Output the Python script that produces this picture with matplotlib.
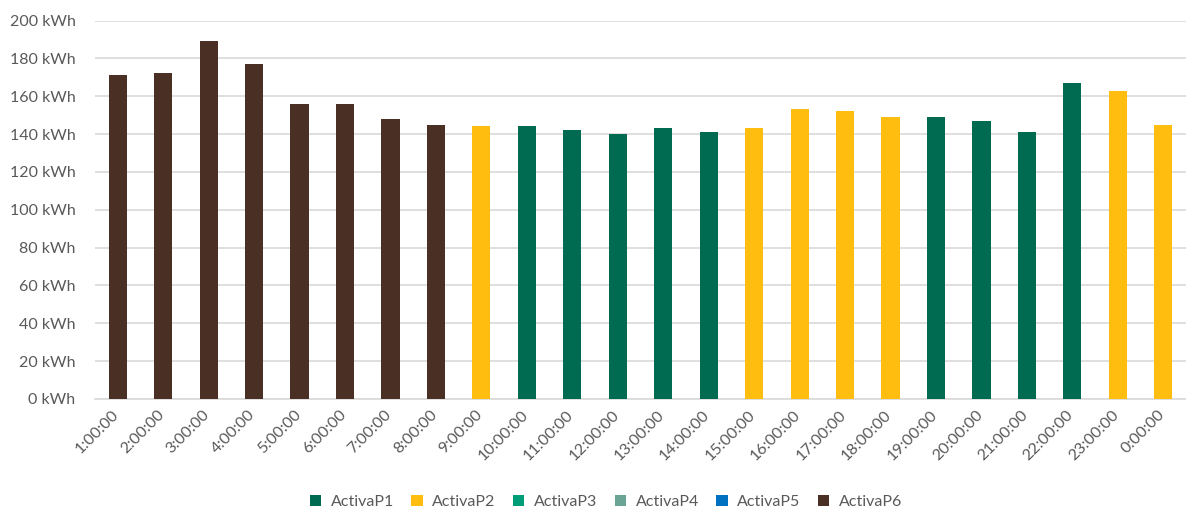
import matplotlib
matplotlib.use('Agg')
import matplotlib.pyplot as plt
from matplotlib.patches import Patch
from matplotlib.ticker import FuncFormatter
import matplotlib.transforms as mtransforms

plt.rcParams['font.family'] = ['Lato', 'DejaVu Sans']

# consumo horario por periodo tarifario
HOURS = ['1:00:00', '2:00:00', '3:00:00', '4:00:00', '5:00:00', '6:00:00',
         '7:00:00', '8:00:00', '9:00:00', '10:00:00', '11:00:00', '12:00:00',
         '13:00:00', '14:00:00', '15:00:00', '16:00:00', '17:00:00', '18:00:00',
         '19:00:00', '20:00:00', '21:00:00', '22:00:00', '23:00:00', '0:00:00']
KWH = [171, 172, 189, 177, 156, 156, 148, 145, 144, 144, 142, 140,
       143, 141, 143, 153, 152, 149, 149, 147, 141, 167, 163, 145]
PERIOD = ['ActivaP6'] * 8 + ['ActivaP2'] + ['ActivaP1'] * 5 + ['ActivaP2'] * 4 \
         + ['ActivaP1'] * 4 + ['ActivaP2'] * 2

SERIES = ['ActivaP1', 'ActivaP2', 'ActivaP3', 'ActivaP4', 'ActivaP5', 'ActivaP6']
COLORS = {
    'ActivaP1': '#006B50',
    'ActivaP2': '#FFBE0F',
    'ActivaP3': '#009E78',
    'ActivaP4': '#6BA394',
    'ActivaP5': '#0070C0',
    'ActivaP6': '#4A3024',
}
TXT = '#595959'

fig = plt.figure(figsize=(11.86, 5.12), dpi=100)
ax = fig.add_axes([95 / 1186, 1 - 399 / 512, 1 - 95 / 1186, (399 - 20.5) / 512])

x = list(range(len(HOURS)))
for s in SERIES:
    vals = [v if p == s else 0 for v, p in zip(KWH, PERIOD)]
    ax.bar(x, vals, width=0.4, color=COLORS[s], zorder=3)

ax.set_xlim(-0.5, len(HOURS) - 0.5)
ax.set_ylim(0, 200)
ax.set_yticks(range(0, 201, 20))
ax.yaxis.set_major_formatter(FuncFormatter(lambda v, _: '{:d} kWh'.format(int(v))))
ax.grid(True, axis='y', color='#D9D9D9', linewidth=1.2, zorder=0)
for side in ['top', 'right', 'left']:
    ax.spines[side].set_visible(False)
ax.spines['bottom'].set_color('#D9D9D9')
ax.spines['bottom'].set_linewidth(1.2)
ax.tick_params(axis='both', length=0, colors=TXT, labelsize=11.5)
ax.tick_params(axis='y', pad=14)

ax.set_xticks(x)
ax.set_xticklabels(HOURS, rotation=45, ha='right', rotation_mode='anchor')
shift = mtransforms.ScaledTranslation(-6 / 100, -4 / 100, fig.dpi_scale_trans)
for lbl in ax.get_xticklabels():
    lbl.set_transform(lbl.get_transform() + shift)

handles = [Patch(facecolor=COLORS[s], label=s) for s in SERIES]
fig.legend(handles=handles, loc='center', bbox_to_anchor=(0.511, 0.02),
           ncol=6, frameon=False, fontsize=11.5, handlelength=0.7,
           handleheight=0.7, handletextpad=0.6, columnspacing=1.1,
           labelcolor=TXT)

fig.savefig('out.png', dpi=100)
